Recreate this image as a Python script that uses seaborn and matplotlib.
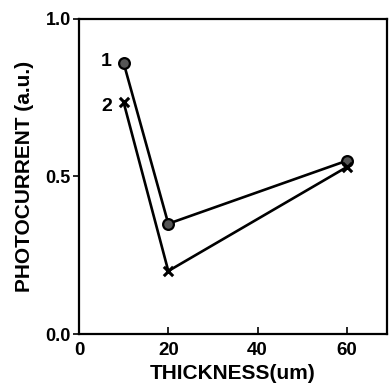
import matplotlib
matplotlib.use("Agg")
import matplotlib.pyplot as plt
import seaborn as sns
import pandas as pd

thickness = [10, 20, 60]
curve_1 = [0.86, 0.35, 0.55]
curve_2 = [0.735, 0.20, 0.53]
curve_names = ["1", "2"]

sns.set_style("ticks")
plt.rcParams["font.family"] = ["Liberation Sans", "DejaVu Sans"]
plt.rcParams["font.weight"] = "bold"
plt.rcParams["text.color"] = "black"
plt.rcParams["axes.labelcolor"] = "black"
plt.rcParams["xtick.color"] = "black"
plt.rcParams["ytick.color"] = "black"

df = pd.DataFrame({
    "thickness": thickness * 2,
    "photocurrent": curve_1 + curve_2,
    "curve": [curve_names[0]] * 3 + [curve_names[1]] * 3,
})

fig = plt.figure(figsize=(3.91, 3.84), dpi=100)
ax = fig.add_axes([0.202, 0.130, 0.788, 0.821])

sns.lineplot(data=df, x="thickness", y="photocurrent", hue="curve",
             palette=["black", "black"], linewidth=1.9, legend=False, ax=ax,
             sort=False)
ax.scatter(thickness, curve_1, s=60, marker="o", facecolor="#555555",
           edgecolor="black", linewidth=1.6, zorder=3)
ax.scatter(thickness, curve_2, s=45, marker="x", color="black",
           linewidth=2.2, zorder=3)

ax.text(thickness[0] - 2.6, curve_1[0] + 0.005, curve_names[0], fontsize=14,
        fontweight="bold", ha="right", va="center", color="black")
ax.text(thickness[0] - 2.6, curve_2[0] - 0.012, curve_names[1], fontsize=14,
        fontweight="bold", ha="right", va="center", color="black")

ax.set_xlim(0, 69)
ax.set_ylim(0, 1.0)
ax.set_xticks([0, 20, 40, 60])
ax.set_yticks([0.0, 0.5, 1.0])
ax.set_yticklabels(["0.0", "0.5", "1.0"])
ax.tick_params(axis="x", direction="in", length=5, width=1.2, labelsize=13.5,
               pad=6, colors="black")
ax.tick_params(axis="y", direction="out", length=4, width=1.2, labelsize=13,
               pad=2, colors="black")
for lab in ax.get_xticklabels() + ax.get_yticklabels():
    lab.set_fontweight("bold")

for sp in ax.spines.values():
    sp.set_visible(True)
    sp.set_linewidth(1.6)
    sp.set_color("black")

ax.set_xlabel("THICKNESS(um)", fontsize=15, fontweight="bold", labelpad=3,
              color="black")
ax.set_ylabel("PHOTOCURRENT (a.u.)", fontsize=15, fontweight="bold", labelpad=8,
              color="black")

fig.savefig("out.png", dpi=100)
